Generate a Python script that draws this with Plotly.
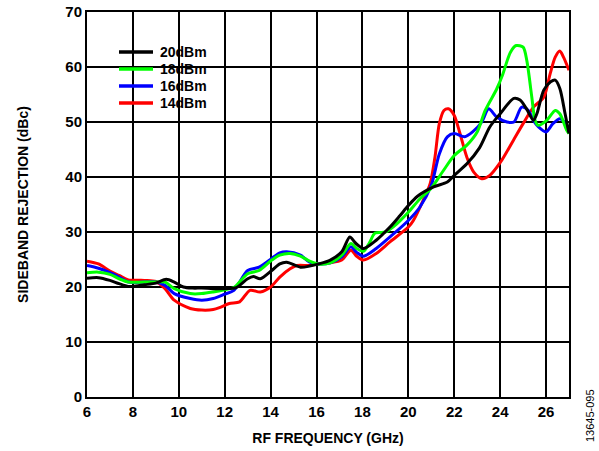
import plotly.graph_objects as go

# 20dBm (black)
f_20 = [6.0, 6.5, 7.0, 7.4, 7.8, 8.0, 8.5, 9.0, 9.45, 9.8, 10.2, 10.6, 11.0, 11.5, 12.0, 12.5, 13.0, 13.25, 13.55, 14.05, 14.4, 14.7, 15.3, 15.7, 16.1, 16.6, 17.1, 17.45, 17.7, 18.05, 18.6, 19.2, 19.6, 20.0, 20.4, 21.1, 21.7, 22.0, 22.55, 23.1, 23.55, 24.0, 24.6, 24.87, 25.15, 25.45, 25.6, 25.9, 26.2, 26.4, 26.6, 26.83, 27.0]
v_20 = [21.6, 21.7, 21.2, 20.6, 20.1, 20.1, 20.4, 20.7, 21.4, 20.9, 20.0, 19.8, 19.8, 19.7, 19.7, 19.9, 21.5, 21.9, 21.5, 23.0, 24.2, 24.5, 23.6, 23.8, 24.2, 24.9, 26.4, 29.1, 28.0, 27.0, 28.5, 30.9, 32.8, 34.8, 36.5, 38.2, 39.1, 40.3, 42.4, 45.3, 49.1, 51.5, 54.3, 54.0, 52.4, 50.3, 51.5, 55.8, 57.3, 57.6, 56.1, 51.5, 47.9]

# 18dBm (green)
f_18 = [6.0, 6.5, 7.0, 7.4, 7.8, 8.5, 9.0, 9.4, 9.8, 10.5, 11.0, 11.5, 12.0, 12.4, 13.0, 13.5, 14.05, 14.4, 14.85, 15.3, 15.7, 16.05, 16.6, 17.1, 17.5, 17.75, 18.05, 18.3, 18.55, 19.0, 19.5, 20.0, 20.5, 21.0, 21.5, 22.0, 22.55, 23.0, 23.35, 23.85, 24.1, 24.45, 24.7, 25.0, 25.16, 25.38, 25.52, 25.65, 26.03, 26.4, 26.6, 26.9, 27.0]
v_18 = [22.6, 22.7, 22.3, 21.5, 20.9, 20.9, 20.9, 20.9, 19.7, 18.8, 18.8, 19.1, 19.5, 19.9, 22.4, 23.0, 24.9, 25.8, 26.1, 25.6, 24.7, 24.2, 24.4, 25.8, 27.9, 27.0, 26.5, 28.0, 29.8, 30.0, 31.5, 33.6, 36.0, 38.0, 41.0, 43.9, 45.8, 48.2, 52.1, 56.0, 58.5, 62.7, 63.9, 63.6, 61.2, 54.5, 50.3, 49.4, 50.3, 52.1, 51.5, 48.5, 47.9]

# 16dBm (blue)
f_16 = [6.0, 6.5, 7.0, 7.4, 7.8, 8.5, 9.0, 9.4, 9.8, 10.5, 11.0, 11.5, 12.0, 12.4, 13.0, 13.5, 14.05, 14.4, 14.7, 15.3, 15.7, 16.05, 16.6, 17.1, 17.5, 17.75, 18.05, 18.6, 19.2, 20.0, 20.5, 21.0, 21.35, 21.7, 22.0, 22.45, 22.8, 23.2, 23.5, 23.85, 24.3, 24.6, 24.94, 25.23, 25.45, 25.67, 26.0, 26.3, 26.6, 26.8, 27.0]
v_16 = [23.9, 23.4, 22.6, 21.8, 20.9, 20.9, 20.9, 20.3, 18.8, 17.9, 17.6, 17.9, 18.7, 19.4, 23.0, 23.6, 25.2, 26.2, 26.4, 25.8, 24.5, 24.2, 24.4, 25.5, 27.3, 26.3, 25.6, 27.0, 29.1, 32.1, 34.5, 38.5, 44.2, 47.3, 47.9, 47.3, 48.2, 50.0, 52.4, 50.9, 50.0, 50.0, 52.7, 52.1, 50.3, 49.1, 48.2, 49.7, 50.6, 50.0, 48.8]

# 14dBm (red)
f_14 = [6.0, 6.5, 7.0, 7.4, 7.8, 8.5, 9.0, 9.4, 9.8, 10.5, 11.0, 11.5, 11.8, 12.2, 12.65, 13.1, 13.55, 14.0, 14.4, 14.85, 15.15, 15.7, 16.05, 16.6, 17.1, 17.5, 17.75, 18.05, 18.6, 19.2, 20.0, 20.22, 20.65, 20.95, 21.16, 21.35, 21.55, 21.75, 22.0, 22.25, 22.55, 22.85, 23.2, 23.55, 24.0, 24.58, 25.0, 25.45, 25.9, 26.18, 26.4, 26.6, 26.76, 27.0]
v_14 = [24.7, 24.2, 22.9, 22.1, 21.3, 21.2, 21.0, 19.7, 17.6, 16.1, 15.8, 15.9, 16.3, 17.0, 17.3, 19.4, 19.1, 20.0, 21.8, 23.3, 23.9, 23.9, 24.2, 24.4, 24.9, 26.7, 25.6, 24.9, 26.1, 28.2, 30.9, 32.1, 35.8, 38.8, 43.6, 49.7, 52.1, 52.4, 51.2, 47.9, 43.6, 40.9, 39.7, 40.3, 42.6, 46.7, 49.7, 52.7, 54.5, 58.8, 61.8, 62.9, 61.8, 59.4]

x_ticks = [6, 8, 10, 12, 14, 16, 18, 20, 22, 24, 26]
y_ticks = [0, 10, 20, 30, 40, 50, 60, 70]

series_names = ["20dBm", "18dBm", "16dBm", "14dBm"]
series_colors = ["#000000", "#00ff00", "#0000ff", "#ff0000"]
series_x = [f_20, f_18, f_16, f_14]
series_y = [v_20, v_18, v_16, v_14]

FONT = "Liberation Sans, Arial, sans-serif"

fig = go.Figure()
# draw in reverse so black is on top
for name, fx, fy, col in reversed(list(zip(series_names, series_x, series_y, series_colors))):
    fig.add_trace(go.Scatter(x=fx, y=fy, name=name, mode="lines", showlegend=False,
                             line=dict(color=col, width=3, shape="spline", smoothing=0.8)))

W, H = 599, 451
L, R, T, B = 87, 30, 12, 54
PL, PT, PW, PH = L, T, W - L - R, H - T - B


def px2paper(px, py):
    return (px - PL) / PW, (PT + PH - py) / PH


# legend box (white background hides the grid) with line samples and labels
x0, y1 = px2paper(108, 40)
x1, y0 = px2paper(216, 112)
fig.add_shape(type="rect", xref="paper", yref="paper", x0=x0, x1=x1, y0=y0, y1=y1,
              fillcolor="white", line=dict(width=0), layer="between")
row_y = [52, 69, 86, 103]
for name, col, ry in zip(series_names, series_colors, row_y):
    lx0, ly = px2paper(119, ry)
    lx1, _ = px2paper(153, ry)
    fig.add_shape(type="line", xref="paper", yref="paper", x0=lx0, x1=lx1, y0=ly, y1=ly,
                  line=dict(color=col, width=3.5), layer="above")
    tx, _ = px2paper(158, ry)
    fig.add_annotation(text=f"<b>{name}</b>", x=tx, y=ly, xref="paper", yref="paper",
                       xanchor="left", yanchor="middle", showarrow=False,
                       font=dict(family=FONT, size=14, color="#000000"))

fig.update_layout(
    width=W, height=H,
    margin=dict(l=L, r=R, t=T, b=B),
    paper_bgcolor="white", plot_bgcolor="white",
    font=dict(family=FONT, size=14, color="#000000"),
    showlegend=False,
)
fig.update_xaxes(range=[6, 27], tickvals=x_ticks, ticktext=[f"<b>{t}</b>" for t in x_ticks],
                 showgrid=True, gridcolor="#000000", gridwidth=1.5,
                 showline=True, linecolor="#000000", linewidth=2, mirror=True,
                 zeroline=False, ticks="", tickfont=dict(size=15), automargin=False,
                 ticklabeloverflow="allow",
                 title=dict(text="<b>RF FREQUENCY (GHz)</b>", font=dict(size=14), standoff=14))
fig.update_yaxes(range=[0, 70], tickvals=y_ticks, ticktext=[f"<b>{t}</b>" for t in y_ticks],
                 showgrid=True, gridcolor="#000000", gridwidth=1.5,
                 showline=True, linecolor="#000000", linewidth=2, mirror=True,
                 zeroline=False, ticks="", tickfont=dict(size=15), automargin=False,
                 ticklabeloverflow="allow",
                 title=dict(text="<b>SIDEBAND REJECTION (dBc)</b>", font=dict(size=14), standoff=33))

fig.add_annotation(text="13645-095", x=1.0, xref="paper", xanchor="center", xshift=21,
                   y=0.0, yref="paper", yanchor="middle", yshift=-19,
                   textangle=-90, showarrow=False,
                   font=dict(family=FONT, size=11, color="#000000"))

fig.write_html("out.html", config={"displayModeBar": False},
               post_script="document.body.style.margin='0';")
